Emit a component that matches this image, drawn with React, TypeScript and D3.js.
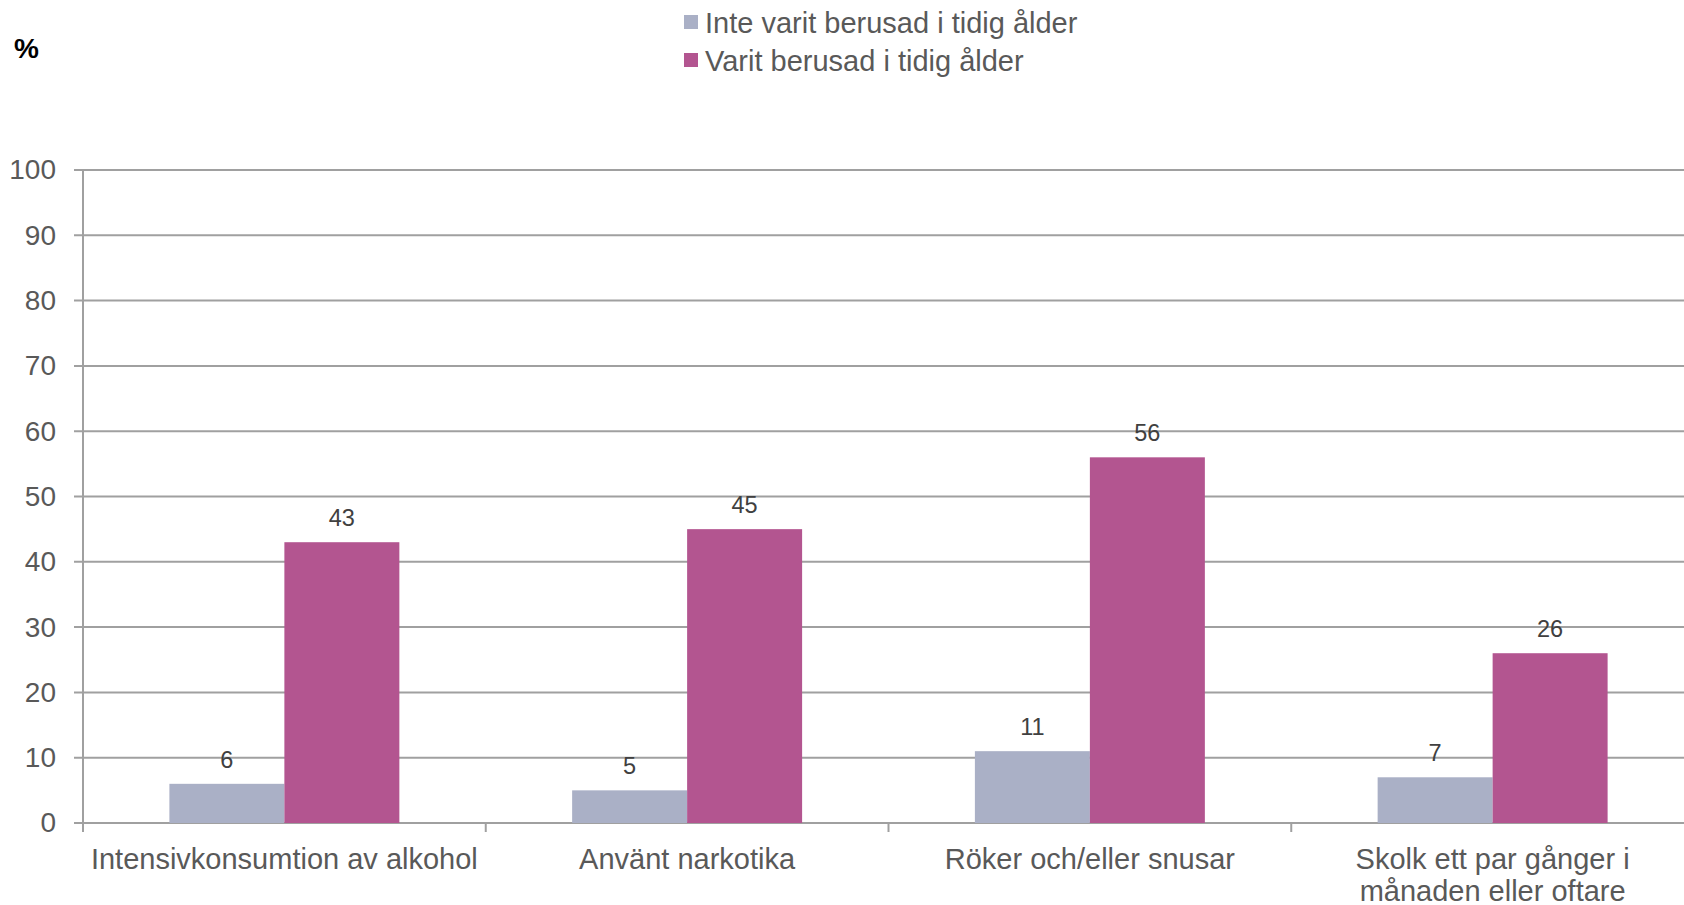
import { useEffect, useRef } from "react";
import * as d3 from "d3";

const categories = [
  ["Intensivkonsumtion av alkohol"],
  ["Använt narkotika"],
  ["Röker och/eller snusar"],
  ["Skolk ett par gånger i", "månaden eller oftare"],
];
const seriesNames = ["Inte varit berusad i tidig ålder", "Varit berusad i tidig ålder"];
const notDrunk = [6, 5, 11, 7];
const drunk = [43, 45, 56, 26];
const yTicks = [0, 10, 20, 30, 40, 50, 60, 70, 80, 90, 100];
const colors = ["#aab0c6", "#b35590"];

const App = () => {
  const svgRef = useRef<SVGSVGElement>(null);

  useEffect(() => {
    const w = 1684;
    const h = 905;
    const svg = d3.select(svgRef.current).attr("width", w).attr("height", h);
    svg.selectAll("*").remove();

    const left = 83;
    const right = 1694;
    const top = 170;
    const bottom = 823;
    const font = "Arial, 'Liberation Sans', sans-serif";

    const idx = categories.map((_, i) => i);
    const x = d3.scaleBand<number>().domain(idx).range([left, right]).paddingInner(0.429).paddingOuter(0.2145);
    const x1 = d3.scaleBand<number>().domain([0, 1]).range([0, x.bandwidth()]);
    const y = d3.scaleLinear().domain([0, 100]).range([bottom, top]);

    // gridlines
    svg.append("g")
      .selectAll("line")
      .data(yTicks)
      .join("line")
      .attr("x1", left - 9)
      .attr("x2", right)
      .attr("y1", (d) => y(d))
      .attr("y2", (d) => y(d))
      .attr("stroke", "#a0a0a0")
      .attr("stroke-width", 2);

    // y axis
    const yAxis = d3.axisLeft(y).tickValues(yTicks).tickSize(0).tickPadding(27);
    svg.append("g")
      .attr("transform", `translate(${left},0)`)
      .call(yAxis)
      .call((g) => g.select(".domain").remove())
      .selectAll("text")
      .attr("font-family", font)
      .attr("font-size", 28)
      .attr("fill", "#595959");

    svg.append("line")
      .attr("x1", left).attr("x2", left)
      .attr("y1", top).attr("y2", bottom + 9)
      .attr("stroke", "#a0a0a0").attr("stroke-width", 2);

    // x category ticks
    svg.append("g")
      .selectAll("line")
      .data(idx)
      .join("line")
      .attr("x1", (d) => x(d)! - (x.step() - x.bandwidth()) / 2)
      .attr("x2", (d) => x(d)! - (x.step() - x.bandwidth()) / 2)
      .attr("y1", bottom)
      .attr("y2", bottom + 9)
      .attr("stroke", "#a0a0a0")
      .attr("stroke-width", 2);

    // bars
    const rows = idx.map((i) => [notDrunk[i], drunk[i]]);
    const groups = svg.append("g")
      .selectAll("g")
      .data(rows)
      .join("g")
      .attr("transform", (_, i) => `translate(${x(i)},0)`);

    groups.selectAll("rect")
      .data((d) => d)
      .join("rect")
      .attr("x", (_, j) => x1(j)!)
      .attr("width", x1.bandwidth())
      .attr("y", (d) => y(d))
      .attr("height", (d) => bottom - y(d))
      .attr("fill", (_, j) => colors[j]);

    groups.selectAll("text")
      .data((d) => d)
      .join("text")
      .attr("x", (_, j) => x1(j)! + x1.bandwidth() / 2)
      .attr("y", (d) => y(d) - 16)
      .attr("text-anchor", "middle")
      .attr("font-family", font)
      .attr("font-size", 23.5)
      .attr("fill", "#404040")
      .text((d) => d);

    // category labels
    const labels = svg.append("g")
      .selectAll("text")
      .data(categories)
      .join("text")
      .attr("x", (_, i) => x(i)! + x.bandwidth() / 2)
      .attr("y", 869)
      .attr("text-anchor", "middle")
      .attr("font-family", font)
      .attr("font-size", 29)
      .attr("fill", "#595959");
    labels.selectAll("tspan")
      .data((d) => d)
      .join("tspan")
      .attr("x", function () {
        return (this.parentNode as SVGTextElement).getAttribute("x");
      })
      .attr("dy", (_, k) => (k === 0 ? 0 : 32))
      .text((d) => d);

    // legend
    const legend = svg.append("g")
      .selectAll("g")
      .data(seriesNames)
      .join("g")
      .attr("transform", (_, i) => `translate(684,${22 + i * 38})`);
    legend.append("rect")
      .attr("x", 0).attr("y", -7).attr("width", 14).attr("height", 14)
      .attr("fill", (_, i) => colors[i]);
    legend.append("text")
      .attr("x", 21).attr("y", 11)
      .attr("font-family", font)
      .attr("font-size", 29)
      .attr("fill", "#595959")
      .text((d) => d);

    svg.append("text")
      .attr("x", 14).attr("y", 58)
      .attr("font-family", font)
      .attr("font-size", 28)
      .attr("font-weight", "bold")
      .attr("fill", "#000")
      .text("%");
  }, []);

  return (
    <div style={{ position: "absolute", left: 0, top: 0, width: 1684, height: 905, overflow: "hidden", background: "#fff" }}>
      <svg ref={svgRef}></svg>
    </div>
  );
};

export default App;
